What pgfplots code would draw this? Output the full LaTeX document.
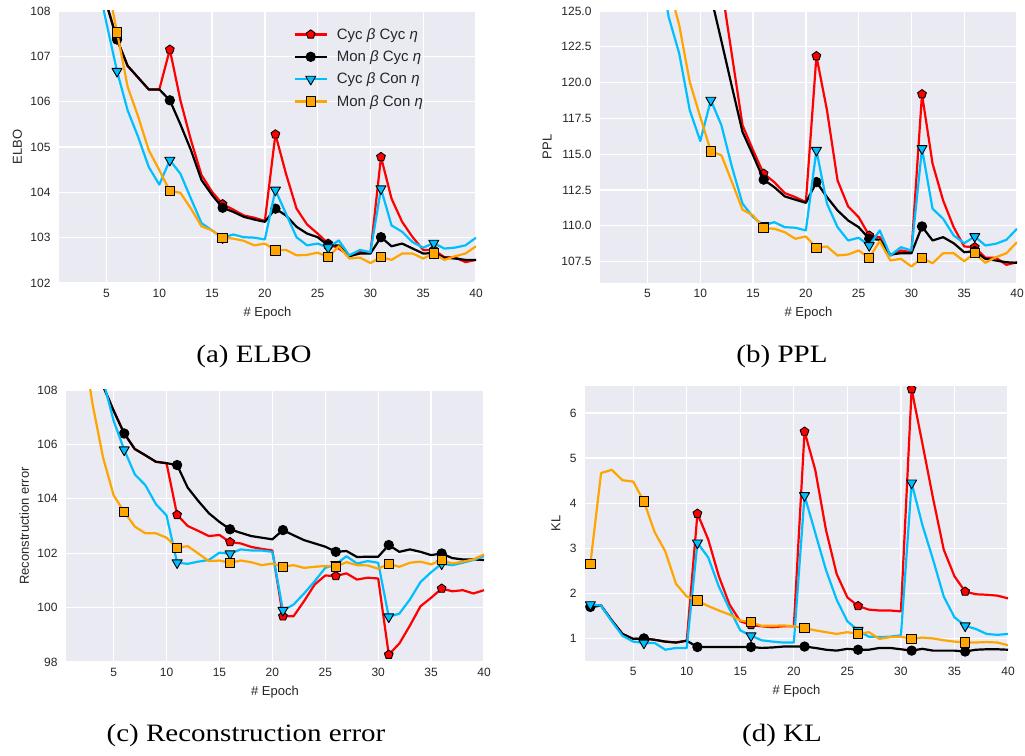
\documentclass[border=0pt]{standalone}
\usepackage{pgfplots}
\pgfplotsset{compat=1.18}
\usepackage{pgfplotstable}
\usetikzlibrary{plotmarks}
\usepackage{fontspec}
\setmainfont{Liberation Serif}
\setsansfont{Liberation Sans}

\definecolor{bgc}{HTML}{EAEAF2}
\definecolor{txt}{HTML}{262626}
\definecolor{skyb}{HTML}{00BFFF}
\definecolor{orng}{HTML}{FFA500}

% columns: epoch, Cyc b Cyc e, Mon b Cyc e, Cyc b Con e, Mon b Con e
\pgfplotstableread{
x r k c o
1 118 118 116 120
2 113 113 112 115
3 110.5 110.5 110 112
4 109.2 109.2 108.81 110
5 108.16 108.16 107.73 108.7
6 107.37 107.37 106.67 107.53
7 106.79 106.79 105.81 106.33
8 106.53 106.53 105.22 105.67
9 106.27 106.27 104.56 104.93
10 106.27 106.27 104.17 104.49
11 107.15 106.03 104.71 104.03
12 106.03 105.50 104.41 103.99
13 105.15 104.93 103.86 103.64
14 104.38 104.27 103.32 103.25
15 104.01 103.94 103.16 103.16
16 103.74 103.66 103.00 103.00
17 103.62 103.57 103.07 102.98
18 103.49 103.46 103.01 102.93
19 103.44 103.40 103.00 102.83
20 103.37 103.35 102.96 102.87
21 105.28 103.64 104.05 102.72
22 104.41 103.49 103.53 102.73
23 103.64 103.24 103.01 102.61
24 103.29 103.09 102.83 102.62
25 103.09 103.01 102.87 102.67
26 102.87 102.83 102.78 102.57
27 102.76 102.83 102.94 102.81
28 102.61 102.59 102.61 102.54
29 102.68 102.65 102.73 102.56
30 102.66 102.65 102.68 102.44
31 104.78 103.01 104.08 102.57
32 103.86 102.81 103.27 102.51
33 103.35 102.87 103.13 102.65
34 103.01 102.76 102.90 102.65
35 102.73 102.65 102.78 102.54
36 102.73 102.66 102.88 102.65
37 102.57 102.56 102.76 102.51
38 102.57 102.54 102.78 102.59
39 102.46 102.51 102.83 102.65
40 102.51 102.51 103.00 102.81
}\elbo

\pgfplotstableread{
x r k c o
1 190 190 180 185
2 165 165 160 165
3 152 152 148 150
4 145 145 140 140
5 140 140 134 134
6 136 136 129 130
7 133 133 124.6 126.8
8 131 131 122.04 124.02
9 129.5 129.5 118.07 120.05
10 128 128 115.92 117.6
11 132 126.05 118.77 115.2
12 126.8 122.9 117.02 114.92
13 121.9 119.7 114.1 113.05
14 117.02 116.55 111.54 111.12
15 115.27 114.92 110.6 110.72
16 113.64 113.22 110.02 109.83
17 113.05 112.7 110.25 109.79
18 112.28 112.05 109.9 109.55
19 112.0 111.82 109.86 109.09
20 111.65 111.6 109.67 109.25
21 121.85 113.05 115.27 108.46
22 118.07 112.0 111.54 108.55
23 113.17 111.07 109.9 107.92
24 111.35 110.37 108.97 107.99
25 110.6 109.9 109.16 108.27
26 109.32 109.09 108.62 107.76
27 109.2 109.02 109.67 108.92
28 107.92 107.99 107.92 107.57
29 108.27 108.08 108.5 107.69
30 108.15 108.08 108.27 107.15
31 119.19 109.95 115.39 107.76
32 114.34 108.97 111.19 107.38
33 111.77 109.2 110.49 108.08
34 109.9 108.78 109.32 108.08
35 108.55 108.15 108.78 107.52
36 108.5 108.22 109.25 108.08
37 107.76 107.69 108.62 107.41
38 107.76 107.57 108.74 107.8
39 107.27 107.45 109.02 108.08
40 107.45 107.41 109.79 108.85
}\ppl

\pgfplotstableread{
x r k c o
1 115 115 115 114
2 111.5 111.5 112 110
3 109.5 109.5 110 107.5
4 108.15 108.15 108.36 105.52
5 107.24 107.24 106.87 104.13
6 106.4 106.4 105.8 103.52
7 105.83 105.83 104.9 102.98
8 105.6 105.6 104.5 102.73
9 105.36 105.36 103.8 102.73
10 105.31 105.31 103.39 102.57
11 103.41 105.24 101.65 102.2
12 103.0 104.41 101.61 102.26
13 102.82 103.92 101.69 101.99
14 102.63 103.47 101.75 101.71
15 102.67 103.15 102.02 101.73
16 102.41 102.88 101.98 101.65
17 102.36 102.75 102.14 101.73
18 102.23 102.63 102.1 101.67
19 102.16 102.57 102.1 101.56
20 102.1 102.51 102.05 101.62
21 99.68 102.85 99.9 101.5
22 99.68 102.66 100.11 101.56
23 100.24 102.48 100.52 101.46
24 100.85 102.36 100.97 101.5
25 101.18 102.24 101.46 101.53
26 101.16 102.05 101.59 101.5
27 101.26 102.08 101.89 101.67
28 101.03 101.86 101.62 101.56
29 101.1 101.87 101.71 101.55
30 101.07 101.87 101.65 101.43
31 98.27 102.3 99.66 101.61
32 98.68 102.05 99.78 101.5
33 99.34 102.14 100.3 101.65
34 100.05 102.05 100.94 101.69
35 100.36 101.93 101.3 101.59
36 100.7 101.99 101.61 101.75
37 100.6 101.82 101.56 101.62
38 100.64 101.77 101.65 101.69
39 100.52 101.77 101.75 101.77
40 100.64 101.75 101.89 101.96
}\rec

\pgfplotstableread{
x r k c o
1 1.7 1.7 1.75 2.65
2 1.73 1.73 1.73 4.67
3 1.4 1.4 1.38 4.74
4 1.1 1.1 1.06 4.51
5 0.99 0.99 0.93 4.48
6 1.0 1.0 0.9 4.04
7 0.97 0.97 0.9 3.36
8 0.93 0.93 0.75 2.93
9 0.91 0.91 0.79 2.21
10 0.95 0.95 0.79 1.93
11 3.77 0.81 3.12 1.84
12 3.2 0.81 2.8 1.72
13 2.38 0.81 2.15 1.62
14 1.75 0.81 1.65 1.53
15 1.38 0.81 1.18 1.4
16 1.3 0.81 1.06 1.36
17 1.27 0.79 0.96 1.28
18 1.25 0.8 0.93 1.28
19 1.27 0.82 0.91 1.29
20 1.27 0.82 0.91 1.27
21 5.59 0.82 4.17 1.23
22 4.74 0.79 3.34 1.18
23 3.41 0.75 2.52 1.14
24 2.43 0.73 1.86 1.1
25 1.91 0.77 1.38 1.14
26 1.72 0.75 1.18 1.1
27 1.64 0.75 1.04 1.14
28 1.62 0.79 1.03 0.99
29 1.62 0.79 1.04 1.03
30 1.6 0.76 1.07 1.04
31 6.53 0.73 4.45 0.99
32 5.33 0.77 3.52 1.02
33 4.11 0.73 2.75 1.0
34 2.97 0.73 1.93 0.96
35 2.38 0.73 1.47 0.93
36 2.04 0.71 1.28 0.91
37 1.98 0.75 1.21 0.91
38 1.97 0.76 1.1 0.92
39 1.95 0.76 1.08 0.91
40 1.89 0.75 1.1 0.85
}\kl

\pgfplotsset{
  sns/.style={
    scale only axis, xmin=0.5, xmax=40, xtick={5,10,...,40},
    axis background/.style={fill=bgc},
    axis line style={draw=none},
    major tick length=0pt,
    grid=major, major grid style={white, line width=1.3pt},
    tick label style={font=\sffamily\fontsize{12}{14}\selectfont, text=txt},
    /pgf/number format/assume math mode=true,
    xticklabel style={yshift=-3pt},
    yticklabel style={xshift=-5pt},
    label style={font=\sffamily\fontsize{13}{15}\selectfont, text=txt},
    xlabel={\# Epoch},
    xlabel style={at={(axis description cs:0.5,-0.11)}, anchor=center},
    clip marker paths=true,
    legend image code/.code={\draw[mark repeat=2,mark phase=2,##1] plot coordinates {(0pt,0pt) (16pt,0pt) (32pt,0pt)};},
  },
  sr/.style={red, line width=2.2pt, line join=round, mark=pentagon*, mark size=4.6pt,
    mark options={fill=red, draw=black, line width=0.9pt}},
  sk/.style={black, line width=2.2pt, line join=round, mark=*, mark size=4.7pt,
    mark options={fill=black, draw=black, line width=0.9pt}},
  sc/.style={skyb, line width=2.2pt, line join=round, mark=triangle*, mark size=5.8pt,
    mark options={rotate=180, fill=skyb, draw=black, line width=0.9pt}},
  so/.style={orng, line width=2.2pt, line join=round, mark=square*, mark size=4.7pt,
    mark options={fill=orng, draw=black, line width=0.9pt}},
}

% line for every epoch, marker every 5th epoch (1, 6, 11, ...)
\newcommand{\series}[3]{%
  \addplot[#3, mark=none, forget plot] table[x=x, y=#2] {#1};
  \addplot[#3, only marks, forget plot, unbounded coords=discard,
    x filter/.expression={mod(x,5)==1 ? x : nan}] table[x=x, y=#2] {#1};
}
\newcommand{\allseries}[1]{%
  \series{#1}{r}{sr}
  \series{#1}{k}{sk}
  \series{#1}{c}{sc}
  \series{#1}{o}{so}
}

\begin{document}
\begin{tikzpicture}
\path[use as bounding box] (0,0) rectangle (1025pt,755pt);

% (a) ELBO
\begin{axis}[sns, at={(59pt,472pt)}, anchor=south west, width=417pt, height=272pt,
  ymin=102, ymax=108, ytick={102,103,...,108},
  ylabel={ELBO}, ylabel style={at={(axis description cs:-0.1,0.5)}, anchor=center},
  legend style={at={(axis description cs:0.555,0.952)}, anchor=north west, draw=none, fill=none,
    font=\sffamily\fontsize{15}{17}\selectfont, text=txt, row sep=6pt, cells={anchor=west},
    /tikz/every odd column/.append style={column sep=7pt}},
]
\allseries{\elbo}
\addlegendimage{sr}
\addlegendimage{sk}
\addlegendimage{sc}
\addlegendimage{so}
\legend{Cyc {\itshape β} Cyc {\itshape η}, Mon {\itshape β} Cyc {\itshape η}, Cyc {\itshape β} Con {\itshape η}, Mon {\itshape β} Con {\itshape η}}
\end{axis}

% (b) PPL
\begin{axis}[sns, at={(600pt,472pt)}, anchor=south west, width=417pt, height=272pt,
  ymin=106, ymax=125, ytick={107.5,110,...,125},
  yticklabel style={/pgf/number format/.cd, fixed, fixed zerofill, precision=1},
  ylabel={PPL}, ylabel style={at={(axis description cs:-0.127,0.5)}, anchor=center},
]
\allseries{\ppl}
\end{axis}

% (c) Reconstruction error
\begin{axis}[sns, at={(66pt,93pt)}, anchor=south west, width=418pt, height=272pt,
  ymin=98, ymax=108, ytick={98,100,...,108},
  ylabel={Reconstruction error}, ylabel style={at={(axis description cs:-0.1,0.5)}, anchor=center},
]
\allseries{\rec}
\end{axis}

% (d) KL
\begin{axis}[sns, at={(585pt,94pt)}, anchor=south west, width=423pt, height=275pt,
  ymin=0.5, ymax=6.6, ytick={1,2,...,6},
  ylabel={KL}, ylabel style={at={(axis description cs:-0.069,0.5)}, anchor=center},
]
\allseries{\kl}
\end{axis}

\begin{scope}[every node/.style={font=\fontsize{25}{30}\selectfont}]
\node at (254pt,399pt) {\scalebox{1.16}[1]{(a) ELBO}};
\node at (782pt,399pt) {\scalebox{1.16}[1]{(b) PPL}};
\node at (246pt,20pt) {\scalebox{1.16}[1]{(c) Reconstruction error}};
\node at (782pt,20pt) {\scalebox{1.16}[1]{(d) KL}};
\end{scope}
\end{tikzpicture}
\end{document}
